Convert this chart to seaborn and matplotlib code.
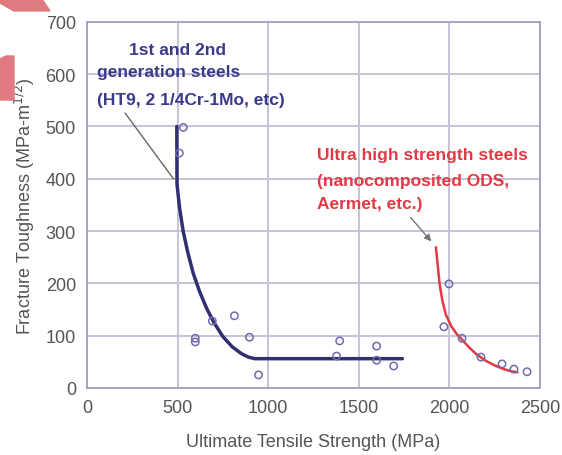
import matplotlib
matplotlib.use("Agg")
import matplotlib.pyplot as plt
import seaborn as sns
import pandas as pd
from matplotlib.patches import Polygon

# measured data points (UTS MPa, toughness MPa-m^1/2)
uts = [531, 509, 597, 597, 691, 813, 896, 946, 1394, 1377, 1598, 1598, 1692,
       1997, 1969, 2069, 2174, 2290, 2356, 2428]
toughness = [498, 449, 95, 88, 128, 138, 97, 25, 90, 61, 80, 53, 42,
             199, 117, 95, 59, 46, 36, 31]

# trend lines
conv_x = [495, 496, 510, 530, 555, 585, 620, 660, 700, 750, 800, 850, 890, 925, 1740]
conv_y = [500, 390, 345, 300, 260, 220, 185, 152, 125, 98, 79, 66, 59, 56, 56]

uhs_x = [1925, 1935, 1945, 1960, 1980, 2010, 2040, 2070, 2110, 2150, 2200, 2250, 2300, 2340, 2375]
uhs_y = [269, 235, 200, 168, 140, 118, 103, 92, 77, 64, 52, 43, 36, 32, 30]

xticks = [0, 500, 1000, 1500, 2000, 2500]
yticks = [0, 100, 200, 300, 400, 500, 600, 700]

sns.set_style("white")
plt.rcParams['font.family'] = ['Liberation Sans', 'DejaVu Sans']

fig = plt.figure(figsize=(5.62, 4.56), dpi=100)
ax = fig.add_axes([0.155, 0.147, 0.806, 0.803])

pts = pd.DataFrame({"uts": uts, "kic": toughness})
navy = "#2f2f72"
red = "#e23a44"
blue_txt = "#3a3a8a"

sns.lineplot(x=conv_x, y=conv_y, sort=False, estimator=None, color=navy, lw=2.5,
             ax=ax, zorder=3)
sns.lineplot(x=uhs_x, y=uhs_y, sort=False, estimator=None, color=red, lw=1.8,
             ax=ax, zorder=3)
sns.scatterplot(data=pts, x="uts", y="kic", marker="o", s=28, facecolor="none",
                edgecolor="#6c6cae", linewidth=1.1, ax=ax, zorder=4)

ax.set_xlim(0, 2500)
ax.set_ylim(0, 700)
ax.set_xticks(xticks)
ax.set_yticks(yticks)
ax.grid(True, color="#c4c4d8", lw=1.4)
ax.set_axisbelow(True)
for sp in ax.spines.values():
    sp.set_color("#a0a0c0")
    sp.set_linewidth(1.3)
ax.tick_params(axis="both", labelsize=13, colors="#555555", length=0, pad=8)
ax.set_xlabel("Ultimate Tensile Strength (MPa)", fontsize=13, color="#555555", labelpad=12)
ax.set_ylabel("Fracture Toughness (MPa-m$^{1/2}$)", fontsize=13, color="#555555", labelpad=6)

ax.annotate("", xy=(487, 395), xytext=(200, 530),
            arrowprops=dict(arrowstyle="-", color="#666666", lw=1.0))
ax.text(500, 648, "1st and 2nd", ha="center", va="center", fontsize=12.5,
        fontweight="bold", color=blue_txt)
ax.text(55, 605, "generation steels", ha="left", va="center", fontsize=12.5,
        fontweight="bold", color=blue_txt)
ax.text(55, 552, "(HT9, 2 1/4Cr-1Mo, etc)", ha="left", va="center", fontsize=12.5,
        fontweight="bold", color=blue_txt)

ax.annotate("", xy=(1910, 276), xytext=(1775, 330),
            arrowprops=dict(arrowstyle="-|>", color="#777777", lw=1.0, mutation_scale=10))
for yy, line in zip([447, 397, 353],
                    ["Ultra high strength steels", "(nanocomposited ODS,", "Aermet, etc.)"]):
    ax.text(1268, yy, line, ha="left", va="center", fontsize=12.5,
            fontweight="bold", color=red)

# pink scraps in the top left corner
pink = "#df7b80"
fig.patches.append(Polygon([(0, 456), (42, 456), (50, 444), (14, 444), (0, 452)],
                           closed=True, color=pink, transform=None, figure=fig))
fig.patches.append(Polygon([(0, 396), (6, 399), (14, 399), (14, 355), (0, 355)],
                           closed=True, color=pink, transform=None, figure=fig))

fig.savefig("out.png", dpi=100)
